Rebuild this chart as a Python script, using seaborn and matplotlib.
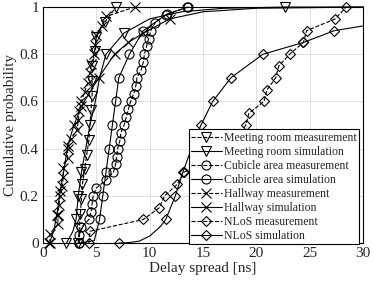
import numpy as np
import matplotlib
matplotlib.use("Agg")
import matplotlib.pyplot as plt
import seaborn as sns

# ===============================
# data
# ===============================
mr_meas_x = [3.3, 3.4, 3.5, 3.6, 3.7, 3.9, 4.1, 4.3, 4.4, 4.5, 4.6, 4.6, 4.6, 4.9, 5.0, 5.8, 6.85]
mr_meas_p = [i / 16 for i in range(17)]

mr_sim_x = [2.2, 2.8, 3.1, 3.3, 3.6, 4.0, 4.4, 4.9, 5.3, 5.9, 7.6, 10.0, 13.0, 17.0, 22.7, 30.0]
mr_sim_p = [0, 0.05, 0.1, 0.2, 0.3, 0.4, 0.5, 0.6, 0.7, 0.8, 0.89, 0.95, 0.98, 0.995, 1.0, 1.0]
mr_sim_marks = [0, 2, 3, 4, 9, 10, 14]

cu_meas_x = [3.4, 3.4, 3.6, 4.3, 4.5, 4.6, 4.7, 5.0, 5.9, 6.6, 6.8, 6.9, 7.0, 7.2, 7.3,
             7.6, 7.8, 8.0, 8.2, 8.5, 8.7, 8.8, 9.2, 9.4, 9.5, 9.7, 9.9, 10.1, 10.5, 11.5, 13.5]
cu_meas_p = [i / 30 for i in range(31)]

cu_sim_x = [3.4, 4.8, 5.3, 5.6, 5.9, 6.2, 6.5, 6.8, 7.1, 8.1, 9.4, 11.6, 13.6]
cu_sim_p = [0, 0.01, 0.1, 0.2, 0.3, 0.4, 0.5, 0.6, 0.7, 0.8, 0.9, 0.97, 1.0]
cu_sim_marks = [0, 2, 3, 4, 5, 6, 7, 8, 9, 10, 11, 12]

hw_meas_x = [0.65, 0.65, 1.4, 1.4, 1.5, 1.6, 1.8, 1.9, 1.9, 2.3, 2.3, 2.6, 3.2,
             3.3, 3.4, 3.6, 3.9, 4.2, 4.4, 4.5, 4.8, 4.9, 5.0, 5.5, 5.9, 8.6]
hw_meas_p = [i / 25 for i in range(26)]

hw_sim_x = [0.6, 1.0, 1.3, 1.6, 2.0, 2.3, 2.9, 3.6, 4.4, 5.2, 6.7, 8.0, 9.4, 11.9, 15.0, 20.0, 30.0]
hw_sim_p = [0, 0.05, 0.12, 0.22, 0.32, 0.41, 0.5, 0.58, 0.64, 0.70, 0.80, 0.85, 0.89, 0.95, 0.98, 0.995, 1.0]
hw_sim_marks = [0, 2, 3, 5, 6, 7, 9, 10, 11, 12, 13]

nl_meas_x = [4.3, 4.4, 9.4, 10.9, 11.4, 12.6, 13.2, 15.5, 17.0, 18.3, 19.0,
             19.3, 20.7, 21.0, 21.8, 22.1, 23.1, 24.4, 24.7, 27.4, 28.4]
nl_meas_p = [i / 20 for i in range(21)]

nl_sim_x = [7.1, 8.0, 9.0, 10.0, 11.0, 11.5, 12.4, 13.1, 13.9, 14.8, 15.9, 17.6, 20.6, 24.4, 27.3, 30.0]
nl_sim_p = [0.0, 0.002, 0.008, 0.03, 0.07, 0.1, 0.2, 0.3, 0.4, 0.5, 0.6, 0.7, 0.8, 0.85, 0.9, 0.92]
nl_sim_marks = [0, 5, 6, 7, 9, 10, 11, 12, 13, 14]

# ===============================
# style
# ===============================
sns.set_style("whitegrid")
plt.rcParams['font.family'] = ['Liberation Serif', 'DejaVu Serif']

fig = plt.figure(figsize=(3.74, 2.82), dpi=100)
ax = fig.add_axes([0.115, 0.138, 0.856, 0.837])

common = dict(color='k', lw=0.8, markerfacecolor='none',
              markeredgecolor='k', markeredgewidth=0.8, clip_on=False,
              estimator=None, sort=False, ax=ax)

series = [
    (mr_meas_x, mr_meas_p, 'v', '--', None, "Meeting room measurement"),
    (mr_sim_x, mr_sim_p, 'v', '-', mr_sim_marks, "Meeting room simulation"),
    (cu_meas_x, cu_meas_p, 'o', '--', None, "Cubicle area measurement"),
    (cu_sim_x, cu_sim_p, 'o', '-', cu_sim_marks, "Cubicle area simulation"),
    (hw_meas_x, hw_meas_p, 'x', '--', None, "Hallway measurement"),
    (hw_sim_x, hw_sim_p, 'x', '-', hw_sim_marks, "Hallway simulation"),
    (nl_meas_x, nl_meas_p, 'D', '--', None, "NLoS measurement"),
    (nl_sim_x, nl_sim_p, 'D', '-', nl_sim_marks, "NLoS simulation"),
]

for x, p, m, ls, marks, lab in series:
    ms = 5.5 if m == 'D' else 6.5
    kw = dict(common)
    kw['markersize'] = ms
    if ls == '--':
        kw['dashes'] = (5, 3)
    sns.lineplot(x=x, y=p, marker=m, linestyle=ls, markevery=marks, label=lab, **kw)

ax.set_xlim(0, 30)
ax.set_ylim(0, 1)
ax.set_xticks(np.arange(0, 31, 5))
ax.set_yticks([0, 0.2, 0.4, 0.6, 0.8, 1.0])
ax.set_yticklabels(["0", "0.2", "0.4", "0.6", "0.8", "1"])
ax.tick_params(labelsize=11, direction='in', length=3, color='k', pad=3)
ax.grid(True, color='#dcdcdc', lw=0.6)
for s in ax.spines.values():
    s.set_color('k')
    s.set_linewidth(0.8)

ax.set_xlabel("Delay spread [ns]", fontsize=11, labelpad=1)
ax.set_ylabel("Cumulative probability", fontsize=11, labelpad=2)

leg = ax.legend(loc='lower right', bbox_to_anchor=(0.988, -0.005), fontsize=8.5,
                frameon=True, fancybox=False, edgecolor='k', framealpha=1,
                handlelength=2.6, handletextpad=0.2, labelspacing=0.17,
                borderpad=0.2, borderaxespad=0)
leg.get_frame().set_linewidth(0.8)

plt.savefig("out.png", dpi=100)
